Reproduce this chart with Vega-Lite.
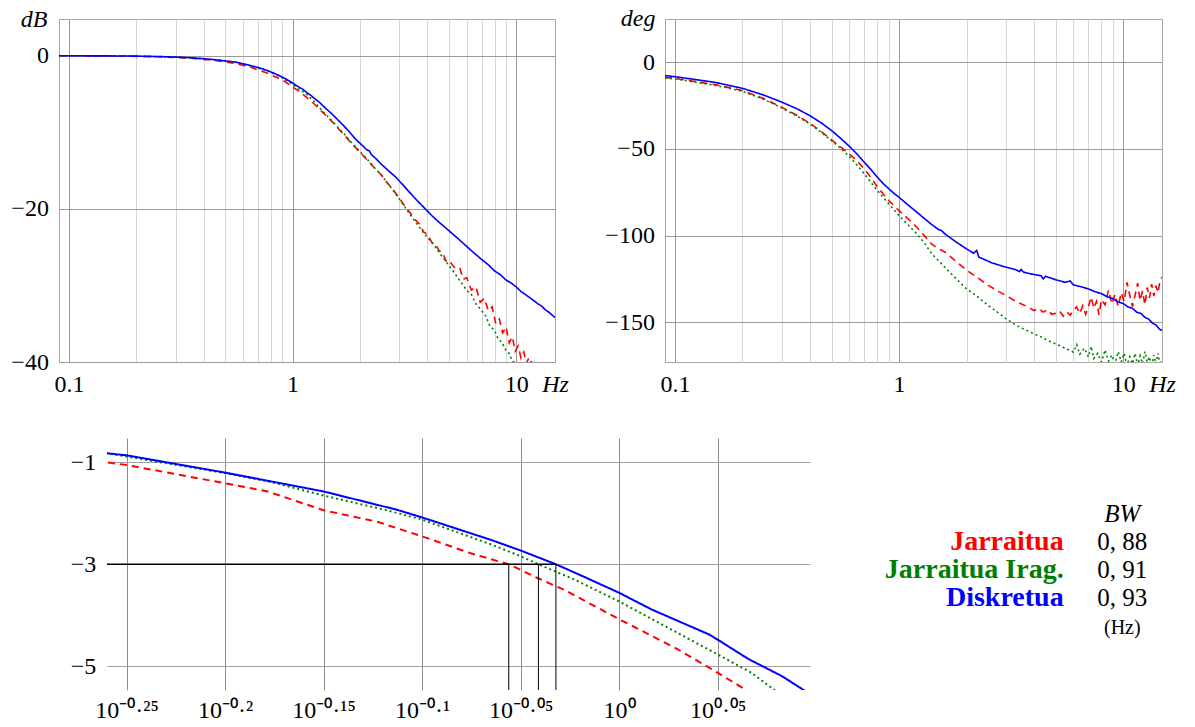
{
  "$schema": "https://vega.github.io/schema/vega-lite/v6.json",
  "background": "white",
  "padding": {"left": 10, "top": 5, "right": 5, "bottom": 2},
  "config": {
    "font": "Liberation Serif, serif",
    "view": {"stroke": null},
    "axis": {
      "labelFont": "Liberation Serif, serif", "labelFontSize": 24, "labelColor": "black",
      "titleFont": "Liberation Serif, serif", "titleFontSize": 24, "titleFontStyle": "italic", "titleFontWeight": "normal", "titleColor": "black",
      "domain": false, "ticks": false, "tickSize": 0, "labelFlush": false, "labelOverlap": false,
      "gridOpacity": 1, "gridWidth": 1
    },
    "text": {"font": "Liberation Serif, serif"}
  },
  "datasets": {
    "mag": [
      {"s": "Jarraitua", "f": 0.0903, "dB": 0}, {"s": "Jarraitua", "f": 0.1, "dB": 0}, {"s": "Jarraitua", "f": 0.15, "dB": -0.03}, {"s": "Jarraitua", "f": 0.2, "dB": -0.08}, {"s": "Jarraitua", "f": 0.25, "dB": -0.14}, {"s": "Jarraitua", "f": 0.3, "dB": -0.22}, {"s": "Jarraitua", "f": 0.35, "dB": -0.33}, {"s": "Jarraitua", "f": 0.4, "dB": -0.48}, {"s": "Jarraitua", "f": 0.45, "dB": -0.63}, {"s": "Jarraitua", "f": 0.5, "dB": -0.8},
      {"s": "Jarraitua", "f": 0.5496, "dB": -1.0}, {"s": "Jarraitua", "f": 0.5623, "dB": -1.05}, {"s": "Jarraitua", "f": 0.631, "dB": -1.41}, {"s": "Jarraitua", "f": 0.663, "dB": -1.57}, {"s": "Jarraitua", "f": 0.708, "dB": -1.94}, {"s": "Jarraitua", "f": 0.753, "dB": -2.16}, {"s": "Jarraitua", "f": 0.794, "dB": -2.45}, {"s": "Jarraitua", "f": 0.84, "dB": -2.78}, {"s": "Jarraitua", "f": 0.879, "dB": -3.0}, {"s": "Jarraitua", "f": 0.909, "dB": -3.27},
      {"s": "Jarraitua", "f": 0.9376, "dB": -3.5}, {"s": "Jarraitua", "f": 1.0, "dB": -4.08}, {"s": "Jarraitua", "f": 1.071, "dB": -4.67}, {"s": "Jarraitua", "f": 1.122, "dB": -5.13}, {"s": "Jarraitua", "f": 1.16, "dB": -5.47}, {"s": "Jarraitua", "f": 1.2, "dB": -5.85}, {"s": "Jarraitua", "f": 1.26, "dB": -6.4}, {"s": "Jarraitua", "f": 1.32, "dB": -7.0}, {"s": "Jarraitua", "f": 1.41, "dB": -7.8}, {"s": "Jarraitua", "f": 1.5, "dB": -8.6},
      {"s": "Jarraitua", "f": 1.61, "dB": -9.6}, {"s": "Jarraitua", "f": 1.7, "dB": -10.3}, {"s": "Jarraitua", "f": 1.8, "dB": -11.2}, {"s": "Jarraitua", "f": 1.9, "dB": -11.9}, {"s": "Jarraitua", "f": 2.0, "dB": -12.6}, {"s": "Jarraitua", "f": 2.2, "dB": -13.9}, {"s": "Jarraitua", "f": 2.35, "dB": -14.8}, {"s": "Jarraitua", "f": 2.5, "dB": -15.6}, {"s": "Jarraitua", "f": 2.65, "dB": -16.6}, {"s": "Jarraitua", "f": 2.8, "dB": -17.4},
      {"s": "Jarraitua", "f": 3.0, "dB": -18.6}, {"s": "Jarraitua", "f": 3.2, "dB": -19.8}, {"s": "Jarraitua", "f": 3.35, "dB": -20.5}, {"s": "Jarraitua", "f": 3.5, "dB": -21.3}, {"s": "Jarraitua", "f": 3.7, "dB": -22.0}, {"s": "Jarraitua", "f": 3.85, "dB": -23.0}, {"s": "Jarraitua", "f": 4.0, "dB": -23.3}, {"s": "Jarraitua", "f": 4.2, "dB": -24.4}, {"s": "Jarraitua", "f": 4.35, "dB": -24.5}, {"s": "Jarraitua", "f": 4.5, "dB": -25.4},
      {"s": "Jarraitua", "f": 4.7, "dB": -25.8}, {"s": "Jarraitua", "f": 4.85, "dB": -26.8}, {"s": "Jarraitua", "f": 5.0, "dB": -26.7}, {"s": "Jarraitua", "f": 5.2, "dB": -27.4}, {"s": "Jarraitua", "f": 5.4, "dB": -27.9}, {"s": "Jarraitua", "f": 5.6, "dB": -27.8}, {"s": "Jarraitua", "f": 5.8, "dB": -29.2}, {"s": "Jarraitua", "f": 6.0, "dB": -29.0}, {"s": "Jarraitua", "f": 6.3, "dB": -30.6}, {"s": "Jarraitua", "f": 6.6, "dB": -30.2},
      {"s": "Jarraitua", "f": 6.9, "dB": -32.2}, {"s": "Jarraitua", "f": 7.2, "dB": -31.7}, {"s": "Jarraitua", "f": 7.5, "dB": -33.3}, {"s": "Jarraitua", "f": 7.8, "dB": -32.8}, {"s": "Jarraitua", "f": 8.1, "dB": -35.0}, {"s": "Jarraitua", "f": 8.4, "dB": -34.4}, {"s": "Jarraitua", "f": 8.7, "dB": -36.2}, {"s": "Jarraitua", "f": 9.0, "dB": -35.4}, {"s": "Jarraitua", "f": 9.3, "dB": -37.5}, {"s": "Jarraitua", "f": 9.6, "dB": -36.7},
      {"s": "Jarraitua", "f": 9.9, "dB": -38.6}, {"s": "Jarraitua", "f": 10.2, "dB": -37.9}, {"s": "Jarraitua", "f": 10.5, "dB": -39.5}, {"s": "Jarraitua", "f": 10.8, "dB": -38.7}, {"s": "Jarraitua", "f": 11.1, "dB": -40.2}, {"s": "Jarraitua", "f": 11.4, "dB": -39.4}, {"s": "Jarraitua", "f": 11.8, "dB": -40.3}, {"s": "Jarraitua", "f": 12.2, "dB": -39.8}, {"s": "Jarraitua", "f": 12.5, "dB": -41.0},

      {"s": "Jarraitua Irag.", "f": 0.0903, "dB": 0}, {"s": "Jarraitua Irag.", "f": 0.1, "dB": 0}, {"s": "Jarraitua Irag.", "f": 0.15, "dB": -0.02}, {"s": "Jarraitua Irag.", "f": 0.2, "dB": -0.06}, {"s": "Jarraitua Irag.", "f": 0.25, "dB": -0.11}, {"s": "Jarraitua Irag.", "f": 0.3, "dB": -0.18}, {"s": "Jarraitua Irag.", "f": 0.35, "dB": -0.27}, {"s": "Jarraitua Irag.", "f": 0.4, "dB": -0.4}, {"s": "Jarraitua Irag.", "f": 0.45, "dB": -0.53}, {"s": "Jarraitua Irag.", "f": 0.5, "dB": -0.66},
      {"s": "Jarraitua Irag.", "f": 0.5496, "dB": -0.82}, {"s": "Jarraitua Irag.", "f": 0.631, "dB": -1.21}, {"s": "Jarraitua Irag.", "f": 0.667, "dB": -1.39}, {"s": "Jarraitua Irag.", "f": 0.708, "dB": -1.65}, {"s": "Jarraitua Irag.", "f": 0.762, "dB": -1.94}, {"s": "Jarraitua Irag.", "f": 0.794, "dB": -2.12}, {"s": "Jarraitua Irag.", "f": 0.861, "dB": -2.61}, {"s": "Jarraitua Irag.", "f": 0.891, "dB": -2.84}, {"s": "Jarraitua Irag.", "f": 0.91, "dB": -3.0}, {"s": "Jarraitua Irag.", "f": 0.949, "dB": -3.3},
      {"s": "Jarraitua Irag.", "f": 1.0, "dB": -3.73}, {"s": "Jarraitua Irag.", "f": 1.071, "dB": -4.35}, {"s": "Jarraitua Irag.", "f": 1.122, "dB": -4.77}, {"s": "Jarraitua Irag.", "f": 1.167, "dB": -5.13}, {"s": "Jarraitua Irag.", "f": 1.199, "dB": -5.47}, {"s": "Jarraitua Irag.", "f": 1.26, "dB": -6.1}, {"s": "Jarraitua Irag.", "f": 1.32, "dB": -6.8}, {"s": "Jarraitua Irag.", "f": 1.41, "dB": -7.7}, {"s": "Jarraitua Irag.", "f": 1.5, "dB": -8.5}, {"s": "Jarraitua Irag.", "f": 1.61, "dB": -9.5},
      {"s": "Jarraitua Irag.", "f": 1.7, "dB": -10.2}, {"s": "Jarraitua Irag.", "f": 1.8, "dB": -11.1}, {"s": "Jarraitua Irag.", "f": 1.9, "dB": -11.8}, {"s": "Jarraitua Irag.", "f": 2.0, "dB": -12.5}, {"s": "Jarraitua Irag.", "f": 2.2, "dB": -13.8}, {"s": "Jarraitua Irag.", "f": 2.35, "dB": -14.8}, {"s": "Jarraitua Irag.", "f": 2.5, "dB": -15.6}, {"s": "Jarraitua Irag.", "f": 2.65, "dB": -16.6}, {"s": "Jarraitua Irag.", "f": 2.8, "dB": -17.5}, {"s": "Jarraitua Irag.", "f": 3.0, "dB": -18.7},
      {"s": "Jarraitua Irag.", "f": 3.2, "dB": -19.9}, {"s": "Jarraitua Irag.", "f": 3.5, "dB": -21.5}, {"s": "Jarraitua Irag.", "f": 3.8, "dB": -22.9}, {"s": "Jarraitua Irag.", "f": 4.0, "dB": -23.7}, {"s": "Jarraitua Irag.", "f": 4.3, "dB": -24.8}, {"s": "Jarraitua Irag.", "f": 4.6, "dB": -26.0}, {"s": "Jarraitua Irag.", "f": 5.0, "dB": -27.4}, {"s": "Jarraitua Irag.", "f": 5.3, "dB": -28.4}, {"s": "Jarraitua Irag.", "f": 5.6, "dB": -29.4}, {"s": "Jarraitua Irag.", "f": 6.0, "dB": -30.6},
      {"s": "Jarraitua Irag.", "f": 6.3, "dB": -31.2}, {"s": "Jarraitua Irag.", "f": 6.6, "dB": -32.4}, {"s": "Jarraitua Irag.", "f": 7.0, "dB": -33.3}, {"s": "Jarraitua Irag.", "f": 7.3, "dB": -34.0}, {"s": "Jarraitua Irag.", "f": 7.6, "dB": -35.2}, {"s": "Jarraitua Irag.", "f": 8.0, "dB": -35.9}, {"s": "Jarraitua Irag.", "f": 8.3, "dB": -37.0}, {"s": "Jarraitua Irag.", "f": 8.6, "dB": -37.4}, {"s": "Jarraitua Irag.", "f": 9.0, "dB": -38.5}, {"s": "Jarraitua Irag.", "f": 9.3, "dB": -38.9},
      {"s": "Jarraitua Irag.", "f": 9.6, "dB": -39.9}, {"s": "Jarraitua Irag.", "f": 9.9, "dB": -40.1}, {"s": "Jarraitua Irag.", "f": 10.2, "dB": -41.0},

      {"s": "Diskretua", "f": 0.0903, "dB": 0}, {"s": "Diskretua", "f": 0.1, "dB": 0}, {"s": "Diskretua", "f": 0.15, "dB": -0.02}, {"s": "Diskretua", "f": 0.2, "dB": -0.05}, {"s": "Diskretua", "f": 0.25, "dB": -0.1}, {"s": "Diskretua", "f": 0.3, "dB": -0.17}, {"s": "Diskretua", "f": 0.35, "dB": -0.26}, {"s": "Diskretua", "f": 0.4, "dB": -0.38}, {"s": "Diskretua", "f": 0.45, "dB": -0.52}, {"s": "Diskretua", "f": 0.5, "dB": -0.67},
      {"s": "Diskretua", "f": 0.5496, "dB": -0.82}, {"s": "Diskretua", "f": 0.5623, "dB": -0.86}, {"s": "Diskretua", "f": 0.631, "dB": -1.2}, {"s": "Diskretua", "f": 0.7079, "dB": -1.57}, {"s": "Diskretua", "f": 0.7714, "dB": -1.93}, {"s": "Diskretua", "f": 0.7943, "dB": -2.08}, {"s": "Diskretua", "f": 0.8607, "dB": -2.52}, {"s": "Diskretua", "f": 0.8913, "dB": -2.73}, {"s": "Diskretua", "f": 0.9288, "dB": -3.0}, {"s": "Diskretua", "f": 0.9603, "dB": -3.25},
      {"s": "Diskretua", "f": 1.0, "dB": -3.56}, {"s": "Diskretua", "f": 1.039, "dB": -3.89}, {"s": "Diskretua", "f": 1.111, "dB": -4.38}, {"s": "Diskretua", "f": 1.122, "dB": -4.48}, {"s": "Diskretua", "f": 1.163, "dB": -4.86}, {"s": "Diskretua", "f": 1.21, "dB": -5.2}, {"s": "Diskretua", "f": 1.243, "dB": -5.49}, {"s": "Diskretua", "f": 1.32, "dB": -6.1}, {"s": "Diskretua", "f": 1.41, "dB": -6.9}, {"s": "Diskretua", "f": 1.5, "dB": -7.6},
      {"s": "Diskretua", "f": 1.61, "dB": -8.5}, {"s": "Diskretua", "f": 1.7, "dB": -9.2}, {"s": "Diskretua", "f": 1.8, "dB": -10.0}, {"s": "Diskretua", "f": 1.9, "dB": -10.8}, {"s": "Diskretua", "f": 2.03, "dB": -11.6}, {"s": "Diskretua", "f": 2.15, "dB": -12.3}, {"s": "Diskretua", "f": 2.2, "dB": -12.4}, {"s": "Diskretua", "f": 2.25, "dB": -12.9}, {"s": "Diskretua", "f": 2.35, "dB": -13.4}, {"s": "Diskretua", "f": 2.5, "dB": -14.2},
      {"s": "Diskretua", "f": 2.68, "dB": -15.0}, {"s": "Diskretua", "f": 2.88, "dB": -15.8}, {"s": "Diskretua", "f": 3.1, "dB": -16.8}, {"s": "Diskretua", "f": 3.3, "dB": -17.7}, {"s": "Diskretua", "f": 3.6, "dB": -18.9}, {"s": "Diskretua", "f": 3.92, "dB": -20.0}, {"s": "Diskretua", "f": 4.2, "dB": -20.9}, {"s": "Diskretua", "f": 4.5, "dB": -21.7}, {"s": "Diskretua", "f": 4.8, "dB": -22.4}, {"s": "Diskretua", "f": 5.16, "dB": -23.2},
      {"s": "Diskretua", "f": 5.5, "dB": -23.9}, {"s": "Diskretua", "f": 6.0, "dB": -24.9}, {"s": "Diskretua", "f": 6.5, "dB": -25.8}, {"s": "Diskretua", "f": 7.0, "dB": -26.6}, {"s": "Diskretua", "f": 7.5, "dB": -27.3}, {"s": "Diskretua", "f": 8.0, "dB": -28.1}, {"s": "Diskretua", "f": 8.5, "dB": -28.6}, {"s": "Diskretua", "f": 9.0, "dB": -29.3}, {"s": "Diskretua", "f": 9.5, "dB": -29.7}, {"s": "Diskretua", "f": 10.0, "dB": -30.2},
      {"s": "Diskretua", "f": 10.5, "dB": -30.8}, {"s": "Diskretua", "f": 11.0, "dB": -31.2}, {"s": "Diskretua", "f": 11.5, "dB": -31.6}, {"s": "Diskretua", "f": 12.0, "dB": -32.0}, {"s": "Diskretua", "f": 12.5, "dB": -32.4}, {"s": "Diskretua", "f": 13.0, "dB": -32.7}, {"s": "Diskretua", "f": 13.5, "dB": -33.2}, {"s": "Diskretua", "f": 14.0, "dB": -33.5}, {"s": "Diskretua", "f": 14.5, "dB": -33.9}, {"s": "Diskretua", "f": 14.9, "dB": -34.2}
    ],
    "phase": [
      {"s": "Jarraitua", "f": 0.0903, "deg": -8.7}, {"s": "Jarraitua", "f": 0.1, "deg": -9.3}, {"s": "Jarraitua", "f": 0.15, "deg": -12.8}, {"s": "Jarraitua", "f": 0.2, "deg": -16.3}, {"s": "Jarraitua", "f": 0.25, "deg": -21}, {"s": "Jarraitua", "f": 0.3, "deg": -26}, {"s": "Jarraitua", "f": 0.35, "deg": -30.6}, {"s": "Jarraitua", "f": 0.4, "deg": -35.2}, {"s": "Jarraitua", "f": 0.45, "deg": -40}, {"s": "Jarraitua", "f": 0.5, "deg": -44.8},
      {"s": "Jarraitua", "f": 0.55, "deg": -49}, {"s": "Jarraitua", "f": 0.6, "deg": -52.9}, {"s": "Jarraitua", "f": 0.65, "deg": -57}, {"s": "Jarraitua", "f": 0.7, "deg": -61.5}, {"s": "Jarraitua", "f": 0.75, "deg": -66.6}, {"s": "Jarraitua", "f": 0.8, "deg": -72}, {"s": "Jarraitua", "f": 0.85, "deg": -76}, {"s": "Jarraitua", "f": 0.9, "deg": -79.8}, {"s": "Jarraitua", "f": 0.95, "deg": -82.8}, {"s": "Jarraitua", "f": 1.0, "deg": -85.6},
      {"s": "Jarraitua", "f": 1.1, "deg": -90.5}, {"s": "Jarraitua", "f": 1.2, "deg": -95.2}, {"s": "Jarraitua", "f": 1.3, "deg": -100.2}, {"s": "Jarraitua", "f": 1.4, "deg": -105}, {"s": "Jarraitua", "f": 1.5, "deg": -107.7}, {"s": "Jarraitua", "f": 1.6, "deg": -109.5}, {"s": "Jarraitua", "f": 1.8, "deg": -115}, {"s": "Jarraitua", "f": 2.0, "deg": -120}, {"s": "Jarraitua", "f": 2.2, "deg": -123.6}, {"s": "Jarraitua", "f": 2.5, "deg": -128.8},
      {"s": "Jarraitua", "f": 2.8, "deg": -132.5}, {"s": "Jarraitua", "f": 3.0, "deg": -134.6}, {"s": "Jarraitua", "f": 3.3, "deg": -137.8}, {"s": "Jarraitua", "f": 3.5, "deg": -139.4}, {"s": "Jarraitua", "f": 3.8, "deg": -141.5}, {"s": "Jarraitua", "f": 4.0, "deg": -143.3}, {"s": "Jarraitua", "f": 4.2, "deg": -142.2}, {"s": "Jarraitua", "f": 4.4, "deg": -144.2}, {"s": "Jarraitua", "f": 4.6, "deg": -142.8}, {"s": "Jarraitua", "f": 4.8, "deg": -145.5},
      {"s": "Jarraitua", "f": 5.0, "deg": -144.8}, {"s": "Jarraitua", "f": 5.2, "deg": -143.5}, {"s": "Jarraitua", "f": 5.4, "deg": -146.5}, {"s": "Jarraitua", "f": 5.6, "deg": -144}, {"s": "Jarraitua", "f": 5.8, "deg": -146}, {"s": "Jarraitua", "f": 6.0, "deg": -143}, {"s": "Jarraitua", "f": 6.2, "deg": -141.2}, {"s": "Jarraitua", "f": 6.4, "deg": -145}, {"s": "Jarraitua", "f": 6.6, "deg": -140.5}, {"s": "Jarraitua", "f": 6.8, "deg": -145.5},
      {"s": "Jarraitua", "f": 7.0, "deg": -141}, {"s": "Jarraitua", "f": 7.2, "deg": -135.5}, {"s": "Jarraitua", "f": 7.4, "deg": -142}, {"s": "Jarraitua", "f": 7.6, "deg": -138}, {"s": "Jarraitua", "f": 7.8, "deg": -145.8}, {"s": "Jarraitua", "f": 8.0, "deg": -137}, {"s": "Jarraitua", "f": 8.3, "deg": -140}, {"s": "Jarraitua", "f": 8.6, "deg": -131.5}, {"s": "Jarraitua", "f": 8.9, "deg": -139.5}, {"s": "Jarraitua", "f": 9.2, "deg": -134},
      {"s": "Jarraitua", "f": 9.5, "deg": -141}, {"s": "Jarraitua", "f": 9.8, "deg": -133}, {"s": "Jarraitua", "f": 10.1, "deg": -138}, {"s": "Jarraitua", "f": 10.4, "deg": -127}, {"s": "Jarraitua", "f": 10.7, "deg": -134.5}, {"s": "Jarraitua", "f": 11.0, "deg": -141}, {"s": "Jarraitua", "f": 11.3, "deg": -134.5}, {"s": "Jarraitua", "f": 11.6, "deg": -127.5}, {"s": "Jarraitua", "f": 11.9, "deg": -137.5}, {"s": "Jarraitua", "f": 12.2, "deg": -132},
      {"s": "Jarraitua", "f": 12.5, "deg": -140}, {"s": "Jarraitua", "f": 12.8, "deg": -130}, {"s": "Jarraitua", "f": 13.1, "deg": -136}, {"s": "Jarraitua", "f": 13.4, "deg": -128}, {"s": "Jarraitua", "f": 13.7, "deg": -135}, {"s": "Jarraitua", "f": 14.0, "deg": -129}, {"s": "Jarraitua", "f": 14.3, "deg": -133}, {"s": "Jarraitua", "f": 14.6, "deg": -126}, {"s": "Jarraitua", "f": 14.9, "deg": -124},

      {"s": "Jarraitua Irag.", "f": 0.0903, "deg": -9}, {"s": "Jarraitua Irag.", "f": 0.1, "deg": -9.6}, {"s": "Jarraitua Irag.", "f": 0.15, "deg": -13.2}, {"s": "Jarraitua Irag.", "f": 0.2, "deg": -16.7}, {"s": "Jarraitua Irag.", "f": 0.25, "deg": -21.5}, {"s": "Jarraitua Irag.", "f": 0.3, "deg": -26.3}, {"s": "Jarraitua Irag.", "f": 0.35, "deg": -31}, {"s": "Jarraitua Irag.", "f": 0.4, "deg": -35.6}, {"s": "Jarraitua Irag.", "f": 0.45, "deg": -40.4}, {"s": "Jarraitua Irag.", "f": 0.5, "deg": -45.2},
      {"s": "Jarraitua Irag.", "f": 0.55, "deg": -49.8}, {"s": "Jarraitua Irag.", "f": 0.6, "deg": -54.4}, {"s": "Jarraitua Irag.", "f": 0.65, "deg": -59.4}, {"s": "Jarraitua Irag.", "f": 0.7, "deg": -64.4}, {"s": "Jarraitua Irag.", "f": 0.75, "deg": -69.4}, {"s": "Jarraitua Irag.", "f": 0.8, "deg": -74}, {"s": "Jarraitua Irag.", "f": 0.85, "deg": -78}, {"s": "Jarraitua Irag.", "f": 0.9, "deg": -81.7}, {"s": "Jarraitua Irag.", "f": 0.95, "deg": -85.2}, {"s": "Jarraitua Irag.", "f": 1.0, "deg": -88.5},
      {"s": "Jarraitua Irag.", "f": 1.1, "deg": -94}, {"s": "Jarraitua Irag.", "f": 1.2, "deg": -99}, {"s": "Jarraitua Irag.", "f": 1.3, "deg": -104.5}, {"s": "Jarraitua Irag.", "f": 1.4, "deg": -110.6}, {"s": "Jarraitua Irag.", "f": 1.5, "deg": -114.5}, {"s": "Jarraitua Irag.", "f": 1.6, "deg": -118.3}, {"s": "Jarraitua Irag.", "f": 1.8, "deg": -125}, {"s": "Jarraitua Irag.", "f": 2.0, "deg": -130.8}, {"s": "Jarraitua Irag.", "f": 2.2, "deg": -134.5}, {"s": "Jarraitua Irag.", "f": 2.5, "deg": -140.4},
      {"s": "Jarraitua Irag.", "f": 2.8, "deg": -145}, {"s": "Jarraitua Irag.", "f": 3.0, "deg": -148}, {"s": "Jarraitua Irag.", "f": 3.3, "deg": -151.5}, {"s": "Jarraitua Irag.", "f": 3.6, "deg": -154}, {"s": "Jarraitua Irag.", "f": 4.0, "deg": -156.7}, {"s": "Jarraitua Irag.", "f": 4.3, "deg": -158.5}, {"s": "Jarraitua Irag.", "f": 4.6, "deg": -160.5}, {"s": "Jarraitua Irag.", "f": 5.0, "deg": -162.5}, {"s": "Jarraitua Irag.", "f": 5.3, "deg": -164}, {"s": "Jarraitua Irag.", "f": 5.6, "deg": -165.5},
      {"s": "Jarraitua Irag.", "f": 6.0, "deg": -167.3}, {"s": "Jarraitua Irag.", "f": 6.2, "deg": -163}, {"s": "Jarraitua Irag.", "f": 6.4, "deg": -168.5}, {"s": "Jarraitua Irag.", "f": 6.7, "deg": -165}, {"s": "Jarraitua Irag.", "f": 7.0, "deg": -170}, {"s": "Jarraitua Irag.", "f": 7.2, "deg": -164}, {"s": "Jarraitua Irag.", "f": 7.4, "deg": -171}, {"s": "Jarraitua Irag.", "f": 7.7, "deg": -168}, {"s": "Jarraitua Irag.", "f": 8.0, "deg": -173}, {"s": "Jarraitua Irag.", "f": 8.3, "deg": -166},
      {"s": "Jarraitua Irag.", "f": 8.6, "deg": -172.5}, {"s": "Jarraitua Irag.", "f": 8.9, "deg": -169}, {"s": "Jarraitua Irag.", "f": 9.2, "deg": -174}, {"s": "Jarraitua Irag.", "f": 9.5, "deg": -167}, {"s": "Jarraitua Irag.", "f": 9.8, "deg": -173}, {"s": "Jarraitua Irag.", "f": 10.1, "deg": -168}, {"s": "Jarraitua Irag.", "f": 10.4, "deg": -175}, {"s": "Jarraitua Irag.", "f": 10.7, "deg": -170}, {"s": "Jarraitua Irag.", "f": 11.0, "deg": -174}, {"s": "Jarraitua Irag.", "f": 11.3, "deg": -168},
      {"s": "Jarraitua Irag.", "f": 11.6, "deg": -175}, {"s": "Jarraitua Irag.", "f": 11.9, "deg": -169.5}, {"s": "Jarraitua Irag.", "f": 12.2, "deg": -174}, {"s": "Jarraitua Irag.", "f": 12.5, "deg": -167}, {"s": "Jarraitua Irag.", "f": 12.8, "deg": -173}, {"s": "Jarraitua Irag.", "f": 13.1, "deg": -170}, {"s": "Jarraitua Irag.", "f": 13.4, "deg": -176}, {"s": "Jarraitua Irag.", "f": 13.7, "deg": -169}, {"s": "Jarraitua Irag.", "f": 14.0, "deg": -174}, {"s": "Jarraitua Irag.", "f": 14.3, "deg": -168},
      {"s": "Jarraitua Irag.", "f": 14.6, "deg": -175}, {"s": "Jarraitua Irag.", "f": 14.9, "deg": -171},

      {"s": "Diskretua", "f": 0.0903, "deg": -7.7}, {"s": "Diskretua", "f": 0.1, "deg": -8.3}, {"s": "Diskretua", "f": 0.15, "deg": -11.5}, {"s": "Diskretua", "f": 0.2, "deg": -15}, {"s": "Diskretua", "f": 0.25, "deg": -19}, {"s": "Diskretua", "f": 0.3, "deg": -23}, {"s": "Diskretua", "f": 0.35, "deg": -26.8}, {"s": "Diskretua", "f": 0.4, "deg": -30.8}, {"s": "Diskretua", "f": 0.45, "deg": -35}, {"s": "Diskretua", "f": 0.5, "deg": -39.4},
      {"s": "Diskretua", "f": 0.55, "deg": -44}, {"s": "Diskretua", "f": 0.6, "deg": -48.5}, {"s": "Diskretua", "f": 0.65, "deg": -53}, {"s": "Diskretua", "f": 0.7, "deg": -57.7}, {"s": "Diskretua", "f": 0.75, "deg": -62}, {"s": "Diskretua", "f": 0.8, "deg": -66.3}, {"s": "Diskretua", "f": 0.85, "deg": -70}, {"s": "Diskretua", "f": 0.9, "deg": -73}, {"s": "Diskretua", "f": 0.95, "deg": -75.7}, {"s": "Diskretua", "f": 1.0, "deg": -77.9},
      {"s": "Diskretua", "f": 1.1, "deg": -82.5}, {"s": "Diskretua", "f": 1.2, "deg": -86.5}, {"s": "Diskretua", "f": 1.3, "deg": -90.3}, {"s": "Diskretua", "f": 1.4, "deg": -93.7}, {"s": "Diskretua", "f": 1.5, "deg": -96.5}, {"s": "Diskretua", "f": 1.55, "deg": -97.2}, {"s": "Diskretua", "f": 1.6, "deg": -99}, {"s": "Diskretua", "f": 1.8, "deg": -103.8}, {"s": "Diskretua", "f": 2.0, "deg": -107.7}, {"s": "Diskretua", "f": 2.15, "deg": -110.2},
      {"s": "Diskretua", "f": 2.22, "deg": -108.6}, {"s": "Diskretua", "f": 2.27, "deg": -112.5}, {"s": "Diskretua", "f": 2.4, "deg": -113.8}, {"s": "Diskretua", "f": 2.6, "deg": -115.8}, {"s": "Diskretua", "f": 3.0, "deg": -118.3}, {"s": "Diskretua", "f": 3.3, "deg": -119.6}, {"s": "Diskretua", "f": 3.45, "deg": -120.8}, {"s": "Diskretua", "f": 3.5, "deg": -119.6}, {"s": "Diskretua", "f": 3.6, "deg": -121.2}, {"s": "Diskretua", "f": 4.0, "deg": -122.5},
      {"s": "Diskretua", "f": 4.3, "deg": -123.2}, {"s": "Diskretua", "f": 4.4, "deg": -125}, {"s": "Diskretua", "f": 4.5, "deg": -123.5}, {"s": "Diskretua", "f": 5.0, "deg": -125.5}, {"s": "Diskretua", "f": 5.5, "deg": -127}, {"s": "Diskretua", "f": 5.8, "deg": -126.2}, {"s": "Diskretua", "f": 6.0, "deg": -128.5}, {"s": "Diskretua", "f": 6.5, "deg": -129.6}, {"s": "Diskretua", "f": 7.0, "deg": -130.8}, {"s": "Diskretua", "f": 7.5, "deg": -132.5},
      {"s": "Diskretua", "f": 8.0, "deg": -133.5}, {"s": "Diskretua", "f": 8.5, "deg": -135.4}, {"s": "Diskretua", "f": 9.0, "deg": -136.4}, {"s": "Diskretua", "f": 9.5, "deg": -138.5}, {"s": "Diskretua", "f": 10.0, "deg": -139.2}, {"s": "Diskretua", "f": 10.5, "deg": -141.2}, {"s": "Diskretua", "f": 11.0, "deg": -142}, {"s": "Diskretua", "f": 11.5, "deg": -144.3}, {"s": "Diskretua", "f": 12.0, "deg": -145}, {"s": "Diskretua", "f": 12.5, "deg": -147.2},
      {"s": "Diskretua", "f": 13.0, "deg": -148.3}, {"s": "Diskretua", "f": 13.5, "deg": -150.5}, {"s": "Diskretua", "f": 14.0, "deg": -151.6}, {"s": "Diskretua", "f": 14.5, "deg": -154}, {"s": "Diskretua", "f": 14.9, "deg": -154.8}
    ],
    "bw": [
      {"s": "Jarraitua", "bw": 0.879, "row": 2, "label": "0, 88"},
      {"s": "Jarraitua Irag.", "bw": 0.910, "row": 3, "label": "0, 91"},
      {"s": "Diskretua", "bw": 0.9288, "row": 4, "label": "0, 93"}
    ],
    "level": [
      {"from": 0.5496, "to": 0.9288, "dB": -3, "floor": -5.47}
    ]
  },
  "bounds": "flush",
  "columns": 2,
  "spacing": {"row": 76, "column": 110},
  "concat": [
    {
      "width": 496, "height": 343,
      "view": {"stroke": "#a6a6a6"},
      "data": {"name": "mag"},
      "mark": {"type": "line", "clip": true, "strokeWidth": 1.6},
      "encoding": {
        "x": {"field": "f", "type": "quantitative",
          "scale": {"type": "log", "domain": [0.0903, 14.9], "nice": false},
          "axis": {"values": [0.1,0.2,0.3,0.4,0.5,0.6,0.7,0.8,0.9,1,2,3,4,5,6,7,8,9,10],
            "labelExpr": "datum.value == 0.1 ? '0.1' : datum.value == 1 ? '1' : datum.value == 10 ? '10' : ''",
            "gridColor": {"condition": {"test": "datum.value == 0.1 || datum.value == 1 || datum.value == 10", "value": "#9a9a9a"}, "value": "#d6d6d6"},
            "labelPadding": 10,
            "title": "Hz", "titleX": 496, "titleY": 29.5, "titleAlign": "center", "titleBaseline": "alphabetic"}},
        "y": {"field": "dB", "type": "quantitative",
          "scale": {"domain": [-40, 4.8], "nice": false, "zero": false},
          "axis": {"values": [0, -20, -40], "gridColor": "#9a9a9a", "labelPadding": 10.6,
            "title": "dB", "titleAngle": 0, "titleX": -12, "titleY": 7.5, "titleAlign": "right", "titleBaseline": "alphabetic"}},
        "color": {"field": "s", "type": "nominal", "scale": {"domain": ["Jarraitua", "Jarraitua Irag.", "Diskretua"], "range": ["#ff0000", "#008000", "#0000ff"]}, "legend": null},
        "strokeDash": {"field": "s", "type": "nominal", "scale": {"domain": ["Jarraitua", "Jarraitua Irag.", "Diskretua"], "range": [[7, 5], [2, 3], [1, 0]]}, "legend": null}
      }
    },
    {
      "width": 497, "height": 343,
      "view": {"stroke": "#a6a6a6"},
      "data": {"name": "phase"},
      "mark": {"type": "line", "clip": true, "strokeWidth": 1.6},
      "encoding": {
        "x": {"field": "f", "type": "quantitative",
          "scale": {"type": "log", "domain": [0.0903, 14.9], "nice": false},
          "axis": {"values": [0.1,0.2,0.3,0.4,0.5,0.6,0.7,0.8,0.9,1,2,3,4,5,6,7,8,9,10],
            "labelExpr": "datum.value == 0.1 ? '0.1' : datum.value == 1 ? '1' : datum.value == 10 ? '10' : ''",
            "gridColor": {"condition": {"test": "datum.value == 0.1 || datum.value == 1 || datum.value == 10", "value": "#9a9a9a"}, "value": "#d6d6d6"},
            "labelPadding": 10,
            "title": "Hz", "titleX": 497, "titleY": 29.5, "titleAlign": "center", "titleBaseline": "alphabetic"}},
        "y": {"field": "deg", "type": "quantitative",
          "scale": {"domain": [-173, 25], "nice": false, "zero": false},
          "axis": {"values": [0, -50, -100, -150], "gridColor": "#9a9a9a", "labelPadding": 10.6,
            "title": "deg", "titleAngle": 0, "titleX": -10, "titleY": 6, "titleAlign": "right", "titleBaseline": "alphabetic"}},
        "color": {"field": "s", "type": "nominal", "scale": {"domain": ["Jarraitua", "Jarraitua Irag.", "Diskretua"], "range": ["#ff0000", "#008000", "#0000ff"]}, "legend": null},
        "strokeDash": {"field": "s", "type": "nominal", "scale": {"domain": ["Jarraitua", "Jarraitua Irag.", "Diskretua"], "range": [[7, 5], [2, 3], [1, 0]]}, "legend": null}
      }
    },
    {
      "bounds": "flush",
      "spacing": 40,
      "hconcat": [
        {
          "width": 8, "height": 10,
          "view": {"stroke": null},
          "data": {"name": "level"},
          "mark": {"type": "text", "opacity": 0},
          "encoding": {"text": {"field": "from", "type": "quantitative"}}
        },
        {
          "bounds": "flush",
          "spacing": 195,
          "hconcat": [
            {
              "width": 703, "height": 252,
              "view": {"stroke": null},
              "layer": [
                {
                  "data": {"name": "mag"},
                  "mark": {"type": "line", "clip": true, "strokeWidth": 2},
                  "encoding": {
                    "x": {"field": "f", "type": "quantitative",
                      "scale": {"type": "log", "domain": [0.5496, 1.25], "nice": false},
                      "axis": {"values": [0.5623, 0.631, 0.7079, 0.7943, 0.8913, 1, 1.122],
                        "labelExpr": "['10⁻⁰·²⁵','10⁻⁰·²','10⁻⁰·¹⁵','10⁻⁰·¹','10⁻⁰·⁰⁵','10⁰','10⁰·⁰⁵'][round(log(datum.value)/LN10*20)+5]",
                        "gridColor": "#8c8c8c", "labelPadding": 8, "title": null}},
                    "y": {"field": "dB", "type": "quantitative",
                      "scale": {"domain": [-5.47, -0.52], "nice": false, "zero": false},
                      "axis": {"values": [-1, -3, -5], "gridColor": "#a0a0a0", "labelPadding": 11.3, "title": null}},
                    "color": {"field": "s", "type": "nominal", "scale": {"domain": ["Jarraitua", "Jarraitua Irag.", "Diskretua"], "range": ["#ff0000", "#008000", "#0000ff"]}, "legend": null},
                    "strokeDash": {"field": "s", "type": "nominal", "scale": {"domain": ["Jarraitua", "Jarraitua Irag.", "Diskretua"], "range": [[7, 5], [2, 3], [1, 0]]}, "legend": null}
                  }
                },
                {
                  "data": {"name": "bw"},
                  "mark": {"type": "rule", "color": "black", "strokeWidth": 1},
                  "encoding": {
                    "x": {"field": "bw", "type": "quantitative"},
                    "y": {"datum": -3, "type": "quantitative"},
                    "y2": {"datum": -5.47}
                  }
                },
                {
                  "data": {"name": "level"},
                  "mark": {"type": "rule", "color": "black", "strokeWidth": 1.6},
                  "encoding": {
                    "x": {"field": "from", "type": "quantitative"},
                    "x2": {"field": "to"},
                    "y": {"field": "dB", "type": "quantitative"}
                  }
                }
              ]
            },
            {
              "width": 176, "height": 252,
              "view": {"stroke": null},
              "layer": [
                {
                  "data": {"name": "bw"},
                  "mark": {"type": "text", "align": "right", "baseline": "alphabetic", "fontSize": 28, "fontWeight": "bold", "font": "Liberation Serif, serif"},
                  "encoding": {
                    "x": {"datum": 1, "type": "quantitative", "scale": {"domain": [0, 3]}, "axis": null},
                    "y": {"field": "row", "type": "quantitative", "scale": {"domain": [-1.806, 6.194], "reverse": true}, "axis": null},
                    "text": {"field": "s"},
                    "color": {"field": "s", "type": "nominal", "scale": {"domain": ["Jarraitua", "Jarraitua Irag.", "Diskretua"], "range": ["#ff0000", "#008000", "#0000ff"]}, "legend": null}
                  }
                },
                {
                  "data": {"name": "bw"},
                  "mark": {"type": "text", "align": "center", "baseline": "alphabetic", "fontSize": 25, "color": "black", "font": "Liberation Serif, serif"},
                  "encoding": {
                    "x": {"datum": 2, "type": "quantitative"},
                    "y": {"field": "row", "type": "quantitative"},
                    "text": {"field": "label"}
                  }
                },
                {
                  "data": {"values": [{"t": "BW", "row": 1}]},
                  "mark": {"type": "text", "align": "center", "baseline": "alphabetic", "fontSize": 25, "fontStyle": "italic", "color": "black", "font": "Liberation Serif, serif"},
                  "encoding": {
                    "x": {"datum": 2, "type": "quantitative"},
                    "y": {"field": "row", "type": "quantitative"},
                    "text": {"field": "t"}
                  }
                },
                {
                  "data": {"values": [{"t": "(Hz)", "row": 5}]},
                  "mark": {"type": "text", "align": "center", "baseline": "alphabetic", "fontSize": 20, "color": "black", "font": "Liberation Serif, serif"},
                  "encoding": {
                    "x": {"datum": 2, "type": "quantitative"},
                    "y": {"field": "row", "type": "quantitative"},
                    "text": {"field": "t"}
                  }
                }
              ]
            }
          ]
        }
      ]
    }
  ]
}
